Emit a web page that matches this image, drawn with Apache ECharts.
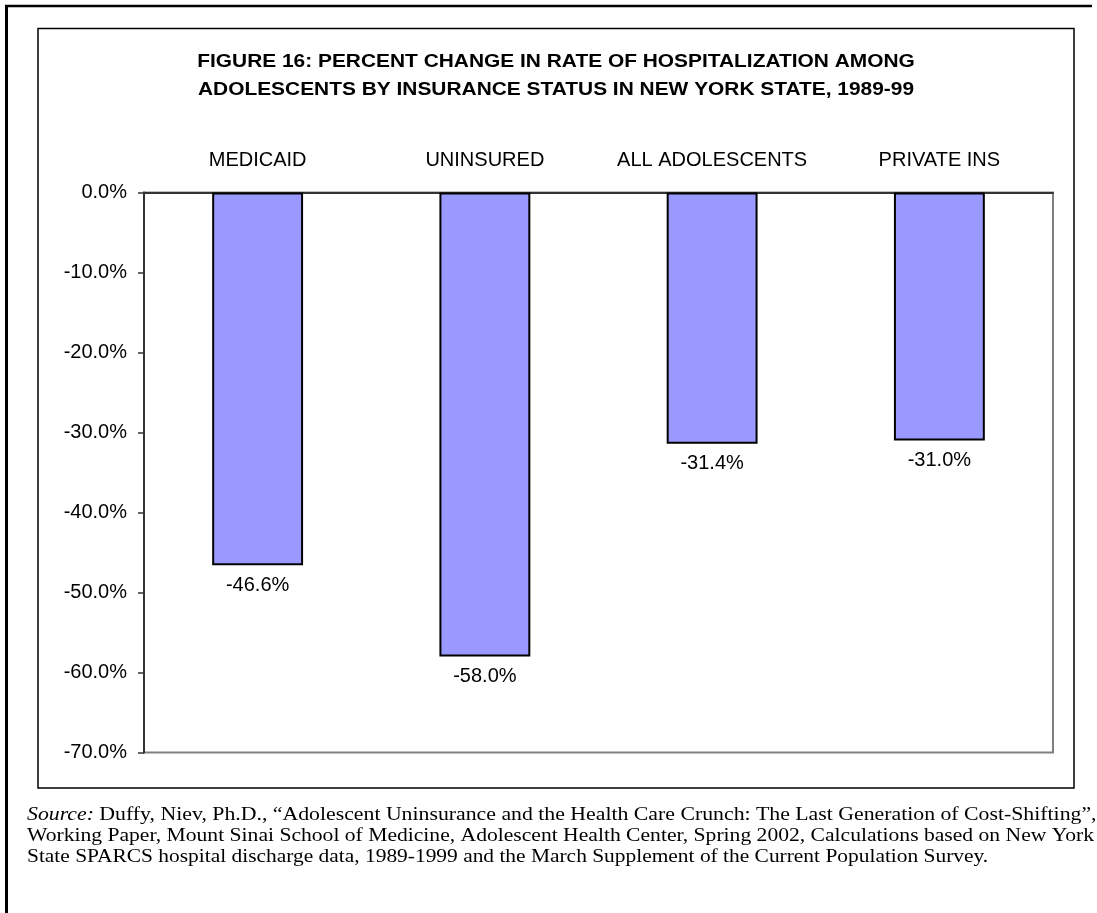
<!DOCTYPE html>
<html>
<head>
<meta charset="utf-8">
<script src="https://cdn.jsdelivr.net/npm/echarts@6/dist/echarts.min.js"></script>
<style>
  html, body { margin: 0; padding: 0; background: #fff; }
  #chart { width: 1097px; height: 913px; }
</style>
</head>
<body>
<div id="chart"></div>
<script>
var categories = ["MEDICAID", "UNINSURED", "ALL ADOLESCENTS", "PRIVATE INS"];
var changeValues = [-46.6, -58.0, -31.4, -31.0];
var titleLines = [
  "FIGURE 16: PERCENT CHANGE IN RATE OF HOSPITALIZATION AMONG",
  "ADOLESCENTS BY INSURANCE STATUS IN NEW YORK STATE, 1989-99"
];
var sourceLines = [
  "{i|Source:} Duffy, Niev, Ph.D., \u201cAdolescent Uninsurance and the Health Care Crunch: The Last Generation of Cost-Shifting\u201d,",
  "Working Paper, Mount Sinai School of Medicine, Adolescent Health Center, Spring 2002, Calculations based on New York",
  "State SPARCS hospital discharge data, 1989-1999 and the March Supplement of the Current Population Survey."
];

var sansFont = "'Liberation Sans', Arial, sans-serif";
var serifFont = "'Liberation Serif', 'Times New Roman', serif";

InitChart();

function InitChart() {
  var myChart = echarts.init(document.getElementById("chart"));

  var graphics = [
    // outer page frame (left and top only)
    { type: "line", shape: { x1: 6.5, y1: 6, x2: 6.5, y2: 913 }, style: { stroke: "#000", lineWidth: 3 } },
    { type: "line", shape: { x1: 5, y1: 6, x2: 1092, y2: 6 }, style: { stroke: "#000", lineWidth: 2.5 } },
    // chart box
    { type: "rect", shape: { x: 38, y: 28.5, width: 1036, height: 759.5 }, style: { fill: null, stroke: "#000", lineWidth: 1.5 } }
  ];
  titleLines.forEach(function (line, i) {
    graphics.push({
      type: "text", x: 556, y: 62 + i * 28, scaleX: 1.1,
      style: { text: line, font: "bold 19px " + sansFont, fill: "#000", align: "center", verticalAlign: "middle" }
    });
  });
  // first two lines of the note are justified to the full width
  var stretch = [1.21, 1.2, 1.19];
  sourceLines.forEach(function (line, i) {
    graphics.push({
      type: "text", x: 27, y: 815 + i * 21, scaleX: stretch[i],
      style: {
        text: line, font: "18px " + serifFont, fill: "#000", verticalAlign: "middle",
        rich: { i: { fontStyle: "italic", fontSize: 18, fontFamily: serifFont } }
      }
    });
  });

  var option = {
    animation: false,
    grid: {
      left: 144, right: 44, top: 192.5, bottom: 160.5,
      show: true, borderColor: "#808080", borderWidth: 2
    },
    xAxis: {
      type: "category",
      position: "top",
      data: categories,
      axisLine: { lineStyle: { color: "#333", width: 2 } },
      axisTick: { inside: true, length: 6, lineStyle: { color: "#333", width: 1.5 } },
      axisLabel: { interval: 0, fontSize: 20, fontFamily: sansFont, color: "#000", margin: 22 }
    },
    yAxis: {
      type: "value",
      min: -70, max: 0, interval: 10,
      axisLine: { show: true, lineStyle: { color: "#333", width: 2 } },
      axisTick: { show: true, length: 6, lineStyle: { color: "#333", width: 1.5 } },
      splitLine: { show: false },
      axisLabel: {
        fontSize: 20, fontFamily: sansFont, color: "#000", margin: 17,
        formatter: function (v) { return v.toFixed(1) + "%"; }
      }
    },
    series: [
      {
        type: "bar",
        data: changeValues,
        barWidth: "40%",
        itemStyle: { color: "#9999FF", borderColor: "#000", borderWidth: 2 },
        label: {
          show: true, position: "bottom", distance: 10,
          fontSize: 20, fontFamily: sansFont, color: "#000",
          formatter: function (p) { return p.value.toFixed(1) + "%"; }
        }
      }
    ],
    graphic: graphics
  };
  myChart.setOption(option);
}
</script>
</body>
</html>
